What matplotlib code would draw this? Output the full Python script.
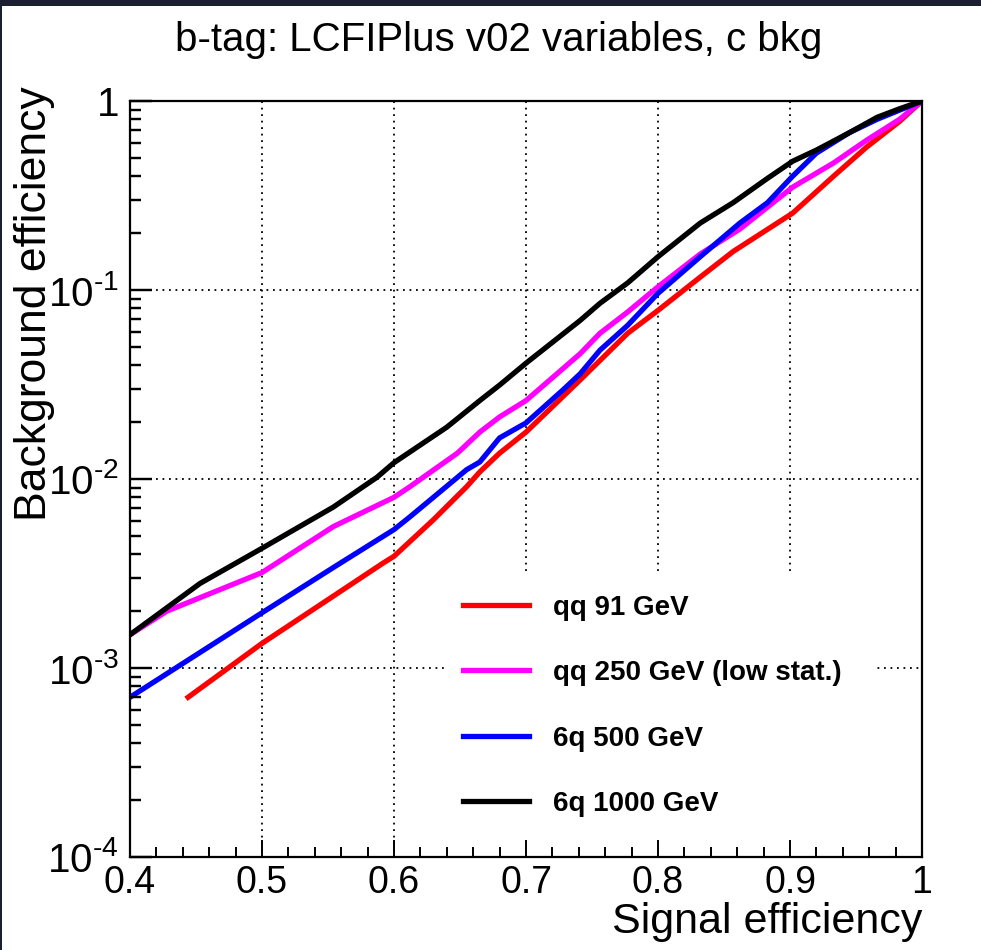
import numpy as np
import matplotlib
matplotlib.use("Agg")
import matplotlib.pyplot as plt
from matplotlib.patches import Rectangle
from matplotlib.transforms import blended_transform_factory
from matplotlib.ticker import FixedLocator, FuncFormatter, MultipleLocator, NullFormatter

# ROC curves: signal efficiency vs background efficiency
x_qq91 = [0.444, 0.5, 0.554, 0.592, 0.6, 0.63, 0.655, 0.665, 0.68, 0.7,
          0.741, 0.777, 0.8, 0.832, 0.857, 0.902, 0.933, 0.958, 0.983, 1.0]
y_qq91 = [7.0e-4, 1.35e-3, 2.4e-3, 3.6e-3, 3.9e-3, 6.1e-3, 9.1e-3, 0.0109, 0.0137, 0.0177,
          0.0334, 0.059, 0.078, 0.117, 0.16, 0.255, 0.40, 0.57, 0.78, 1.0]

x_qq250 = [0.4, 0.428, 0.5, 0.554, 0.6, 0.612, 0.648, 0.665, 0.68, 0.7,
           0.741, 0.756, 0.777, 0.8, 0.832, 0.862, 0.902, 0.933, 0.958, 0.983, 1.0]
y_qq250 = [1.5e-3, 2.0e-3, 3.2e-3, 5.6e-3, 8.0e-3, 9.1e-3, 0.0137, 0.0177, 0.0213, 0.026,
           0.046, 0.059, 0.0765, 0.104, 0.155, 0.21, 0.35, 0.47, 0.62, 0.80, 1.0]

x_6q500 = [0.4, 0.5, 0.554, 0.6, 0.612, 0.655, 0.665, 0.68, 0.7, 0.728, 0.741,
           0.756, 0.777, 0.8, 0.832, 0.862, 0.883, 0.902, 0.92, 0.945, 0.966, 1.0]
y_6q500 = [7.0e-4, 1.96e-3, 3.4e-3, 5.4e-3, 6.3e-3, 0.0112, 0.0123, 0.0165, 0.0198, 0.0296, 0.036,
           0.048, 0.065, 0.096, 0.15, 0.226, 0.29, 0.40, 0.53, 0.68, 0.80, 1.0]

x_6q1000 = [0.4, 0.453, 0.5, 0.554, 0.587, 0.6, 0.64, 0.665, 0.68, 0.7, 0.741, 0.756,
            0.777, 0.8, 0.832, 0.857, 0.883, 0.902, 0.92, 0.945, 0.966, 0.983, 1.0]
y_6q1000 = [1.5e-3, 2.8e-3, 4.3e-3, 7.1e-3, 0.0102, 0.0122, 0.0188, 0.026, 0.0314, 0.041, 0.069, 0.085,
            0.109, 0.15, 0.226, 0.29, 0.39, 0.48, 0.55, 0.68, 0.82, 0.91, 1.0]

labels = ["qq 91 GeV", "qq 250 GeV (low stat.)", "6q 500 GeV", "6q 1000 GeV"]
colors = ["#ff0000", "#ff00ff", "#0000ff", "#000000"]

title = "b-tag: LCFIPlus v02 variables, c bkg"
xlabel = "Signal efficiency"
ylabel = "Background efficiency"
x_major = [0.4, 0.5, 0.6, 0.7, 0.8, 0.9, 1.0]
y_major = [1e-4, 1e-3, 1e-2, 1e-1, 1.0]
y_minor = [m * 10.0 ** e for e in range(-4, 0) for m in range(2, 10)]

plt.rcParams["font.family"] = ["Liberation Sans", "DejaVu Sans"]
plt.rcParams["mathtext.fontset"] = "custom"
plt.rcParams["mathtext.rm"] = "Liberation Sans"
plt.rcParams["mathtext.default"] = "regular"

fig = plt.figure(figsize=(9.81, 9.5), dpi=100)
ax = fig.add_axes([130 / 981, 1 - 857 / 950, 792 / 981, 756 / 950])

series = [(x_qq91, y_qq91), (x_qq250, y_qq250), (x_6q500, y_6q500), (x_6q1000, y_6q1000)]
handles = []
for (xs, ys), lab, col in zip(series, labels, colors):
    h, = ax.plot(xs, ys, color=col, lw=3.8, label=lab, zorder=3, solid_joinstyle="round")
    handles.append(h)

ax.set_yscale("log")
ax.set_xlim(0.4, 1.0)
ax.set_ylim(1e-4, 1.0)

ax.xaxis.set_major_locator(FixedLocator(x_major))
ax.xaxis.set_minor_locator(MultipleLocator(0.02))
ax.yaxis.set_major_locator(FixedLocator(y_major))
ax.yaxis.set_minor_locator(FixedLocator(y_minor))
ax.yaxis.set_minor_formatter(NullFormatter())
ax.xaxis.set_major_formatter(FuncFormatter(lambda v, p: "1" if abs(v - 1) < 1e-9 else "%.1f" % v))
ax.yaxis.set_major_formatter(FuncFormatter(
    lambda v, p: "1" if abs(v - 1) < 1e-9 else r"$10^{\text{-}%d}$" % abs(int(round(np.log10(v))))))

ax.xaxis.set_ticks_position("bottom")
ax.yaxis.set_ticks_position("left")
ax.xaxis.set_tick_params(which="major", direction="in", length=12, width=1.4,
                         color="black", labelsize=27, pad=6)
ax.xaxis.set_tick_params(which="minor", direction="in", length=7, width=1.4, color="black")
ax.yaxis.set_tick_params(which="major", direction="in", length=16, width=1.6,
                         color="black", labelsize=29, pad=8)
ax.yaxis.set_tick_params(which="minor", direction="in", length=8, width=1.6, color="black")

# explicit inward tick marks on the log axis (ROOT style)
ytrans = blended_transform_factory(ax.transAxes, ax.transData)
for yv in y_major:
    ax.plot([0, 22 / 792], [yv, yv], transform=ytrans, color="black", lw=1.6,
            zorder=4, clip_on=False, solid_capstyle="butt")
for yv in y_minor:
    ax.plot([0, 11 / 792], [yv, yv], transform=ytrans, color="black", lw=1.6,
            zorder=4, clip_on=False, solid_capstyle="butt")

for s in ax.spines.values():
    s.set_linewidth(1.6)
    s.set_zorder(4)

# dotted grid at the major ticks, under the legend box
ax.set_axisbelow(False)
for xv in x_major[1:-1]:
    ax.axvline(xv, color="black", lw=1.3, ls=(0, (1, 2.6)), zorder=0.5)
for yv in y_major[1:-1]:
    ax.axhline(yv, color="black", lw=1.3, ls=(0, (1, 2.6)), zorder=0.5)

# white legend box covering the grid
ax.add_patch(Rectangle((0.398, 0.0), 0.545, 0.377, transform=ax.transAxes,
                       facecolor="white", edgecolor="none", zorder=1))
ax.legend(handles=handles, loc="upper left", bbox_to_anchor=(0.42, 0.347),
          frameon=False, borderpad=0, borderaxespad=0, handlelength=2.4,
          handletextpad=0.85, labelspacing=1.42,
          prop={"weight": "bold", "size": 20})

ax.set_title(title, fontsize=29, pad=36, x=0.466)
ax.set_xlabel(xlabel, fontsize=31, loc="right")
ax.xaxis.set_label_coords(1.0, -0.06)
ax.set_ylabel(ylabel, fontsize=32, loc="top")
ax.yaxis.set_label_coords(-0.095, 1.02)

# dark screenshot edge at top and left
fig.patches.append(Rectangle((0, 1 - 6 / 950), 1, 6 / 950, transform=fig.transFigure,
                             facecolor="#1c1e32", edgecolor="none"))
fig.patches.append(Rectangle((0, 0), 2 / 981, 1, transform=fig.transFigure,
                             facecolor="#1c1e32", edgecolor="none"))

fig.savefig("out.png", dpi=100)
